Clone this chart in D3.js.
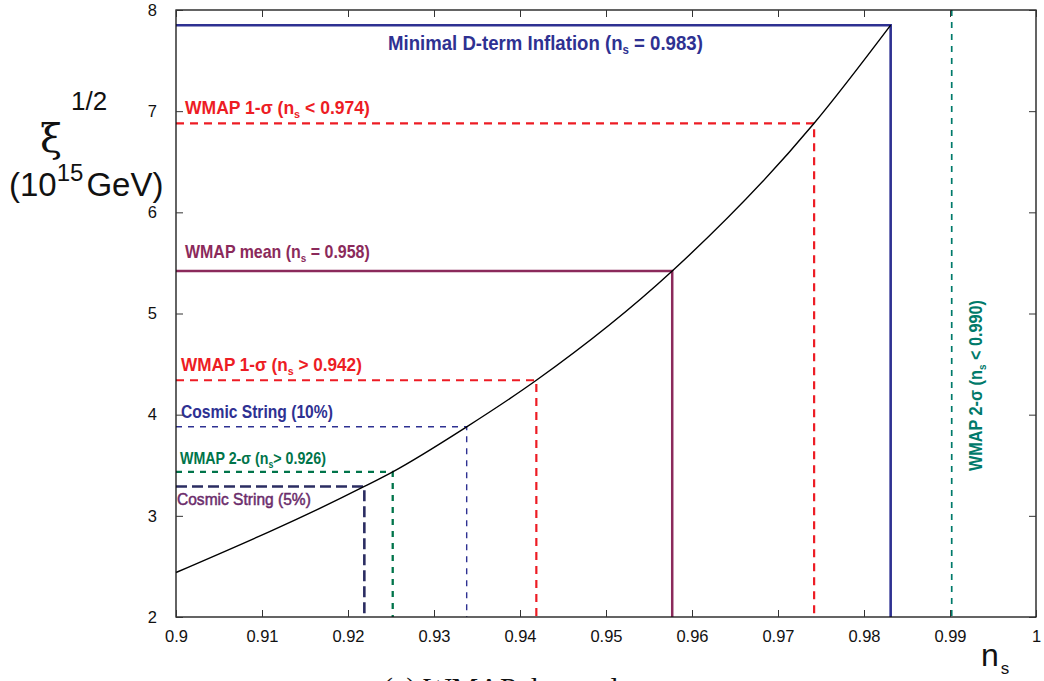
<!DOCTYPE html>
<html><head><meta charset="utf-8">
<script src="https://cdn.jsdelivr.net/npm/d3@7"></script>
<style>body{margin:0;background:#fff;} svg{display:block;}</style>
</head><body>
<svg id="c" width="1044" height="681"></svg>
<script>
// ---- data ----
const xTicks = [0.9,0.91,0.92,0.93,0.94,0.95,0.96,0.97,0.98,0.99,1];
const xTickLabels = ["0.9","0.91","0.92","0.93","0.94","0.95","0.96","0.97","0.98","0.99","1"];
const yTicks = [2,3,4,5,6,7,8];
const curveNs = [0.9, 0.9219, 0.9252, 0.9338, 0.9419, 0.9577, 0.9742, 0.9831];
const curveXi = [2.44, 3.29, 3.435, 3.88, 4.34, 5.42, 6.88, 7.85];
const markerKeys = ["dterm","w1up","mean","w1lo","cs10","w2lo","cs5"];
const markerNs   = [0.9831, 0.9742, 0.9577, 0.9419, 0.9338, 0.9252, 0.9219];
const markerXi   = [7.85, 6.88, 5.42, 4.34, 3.88, 3.435, 3.29];
const markerText = [
  ["Minimal D-term Inflation (n","s"," = 0.983)"],
  ["WMAP 1-σ  (n","s"," < 0.974)"],
  ["WMAP mean (n","s"," = 0.958)"],
  ["WMAP 1-σ  (n","s"," > 0.942)"],
  ["Cosmic String (10%)","",""],
  ["WMAP 2-σ  (n","s","> 0.926)"],
  ["Cosmic String (5%)","",""]
];
const vertNs = 0.9902;
const vertText = ["WMAP 2-σ  (n","s"," < 0.990)"];
const caption = "(a) WMAP data only";

// ---- styles ----
const style = {
  dterm:{color:"#2e3192", w:2.6, dash:null, lx:388, ly:50, tw:315, fs:21},
  w1up: {color:"#ed1c24", w:2.2, dash:"8,6", lx:185, ly:114, tw:185, fs:18},
  mean: {color:"#8b2a5b", w:2.5, dash:null, lx:185, ly:258, tw:185, fs:18},
  w1lo: {color:"#ed1c24", w:2.2, dash:"8,6", lx:181, ly:371, tw:181, fs:18},
  cs10: {color:"#2e3192", w:1.4, dash:"6,6", lx:181, ly:418, tw:152, fs:17.5},
  w2lo: {color:"#00744a", w:2.3, dash:"6,6", lx:180, ly:464, tw:146, fs:16.5},
  cs5:  {color:"#2b2d62", w:2.6, dash:"11,5", lx:177, ly:505, tw:134, fs:16.5, tc:"#6b2c6b", weight:"normal", stroke:0.5}
};

const svg = d3.select("#c");
const L=176, R=1036, T=10, B=617;
const x = d3.scaleLinear().domain([0.9,1]).range([L,R]);
const y = d3.scaleLinear().domain([2,8]).range([B,T]);
const g = svg.append("g");
const labelFont = "'Liberation Sans',Arial,sans-serif";

function squeeze(textSel, targetW){
  const w = textSel.node().getBBox().width;
  return targetW / w;
}

// markers
markerKeys.forEach((k,i)=>{
  const s = style[k];
  const px = x(markerNs[i]), py = y(markerXi[i]);
  const p = d3.path(); p.moveTo(x(0.9), py); p.lineTo(px, py); p.lineTo(px, y(2));
  g.append("path").attr("d", p.toString()).attr("fill","none")
    .attr("stroke", s.color).attr("stroke-width", s.w)
    .attr("stroke-dasharray", s.dash);
  const tg = g.append("g");
  const t = tg.append("text").attr("x", 0).attr("y", 0)
    .attr("font-family", labelFont)
    .attr("font-weight", s.weight||"bold").attr("font-size", s.fs).attr("fill", s.tc||s.color);
  if(s.stroke){ t.attr("stroke", s.tc||s.color).attr("stroke-width", s.stroke); }
  const parts = markerText[i];
  t.append("tspan").text(parts[0]);
  if(parts[1]){ t.append("tspan").attr("dy",4).attr("font-size", s.fs*0.62).text(parts[1]);
    t.append("tspan").attr("dy",-4).text(parts[2]); }
  const sx = squeeze(t, s.tw);
  tg.attr("transform", `translate(${s.lx},${s.ly}) scale(${sx},1)`);
});

// vertical 2-sigma line
g.append("line").attr("x1",x(vertNs)).attr("x2",x(vertNs)).attr("y1",y(8)).attr("y2",y(2))
  .attr("stroke","#007a6a").attr("stroke-width",1.7).attr("stroke-dasharray","6,6");
const vg = g.append("g");
const vt = vg.append("text").attr("x",0).attr("y",0)
  .attr("font-family",labelFont).attr("font-weight","bold")
  .attr("font-size",18).attr("fill","#007a6a");
vt.append("tspan").text(vertText[0]);
vt.append("tspan").attr("dy",4).attr("font-size",11).text(vertText[1]);
vt.append("tspan").attr("dy",-4).text(vertText[2]);
const vsx = squeeze(vt, 171);
vg.attr("transform",`translate(${x(vertNs)+30},471) rotate(-90) scale(${vsx},1)`);

// curve
const line = d3.line().x(d=>x(d[0])).y(d=>y(d[1])).curve(d3.curveMonotoneX);
g.append("path").datum(curveNs.map((v,i)=>[v,curveXi[i]])).attr("d",line)
  .attr("fill","none").attr("stroke","#000").attr("stroke-width",1.4);

// frame
g.append("rect").attr("x",L).attr("y",T).attr("width",R-L).attr("height",B-T)
  .attr("fill","none").attr("stroke","#111").attr("stroke-width",1.3);

// axes
const tf = "'Liberation Sans',Arial,sans-serif";
const ax = svg.append("g").attr("transform",`translate(0,${B})`)
  .call(d3.axisBottom(x).tickValues(xTicks).tickSizeInner(-7).tickSizeOuter(0).tickPadding(13)
    .tickFormat((d,i)=>xTickLabels[i]));
ax.select(".domain").remove();
const axT = svg.append("g").attr("transform",`translate(0,${T})`)
  .call(d3.axisTop(x).tickValues(xTicks).tickSizeInner(-7).tickSizeOuter(0).tickFormat(""));
axT.select(".domain").remove();
const ay = svg.append("g").attr("transform",`translate(${L},0)`)
  .call(d3.axisLeft(y).tickValues(yTicks).tickSizeInner(-7).tickSizeOuter(0).tickPadding(19).tickFormat(d3.format("d")));
ay.select(".domain").remove();
const ayR = svg.append("g").attr("transform",`translate(${R},0)`)
  .call(d3.axisRight(y).tickValues(yTicks).tickSizeInner(-7).tickSizeOuter(0).tickFormat(""));
ayR.select(".domain").remove();
svg.selectAll(".tick line").attr("stroke","#333").attr("stroke-width",1);
svg.selectAll(".tick text").attr("font-family",tf).attr("font-size",16.5).attr("fill","#111");

// axis titles
const yl = svg.append("text").attr("x",40).attr("y",152).attr("font-family","'DejaVu Serif',serif").attr("fill","#111");
yl.append("tspan").attr("font-size",40).text("ξ");
const yls = svg.append("text").attr("x",71).attr("y",110).attr("font-family",tf).attr("fill","#111")
  .attr("font-size",26).text("1/2");
const yl2 = svg.append("text").attr("x",9).attr("y",196).attr("font-family",tf).attr("fill","#111").attr("font-size",33);
yl2.append("tspan").text("(10");
yl2.append("tspan").attr("font-size",24).attr("dy",-15).text("15");
yl2.append("tspan").attr("dy",15).attr("dx",3).text("GeV)");
const xl = svg.append("text").attr("x",981).attr("y",666).attr("font-family",tf).attr("fill","#111").attr("font-size",32);
xl.append("tspan").text("n");
xl.append("tspan").attr("font-size",17).attr("dy",8).attr("dx",2).text("s");

// caption
svg.append("text").attr("x",383).attr("y",698).attr("font-family","'Liberation Serif',serif")
  .attr("font-size",30).attr("fill","#111").text(caption);
</script>
</body></html>
